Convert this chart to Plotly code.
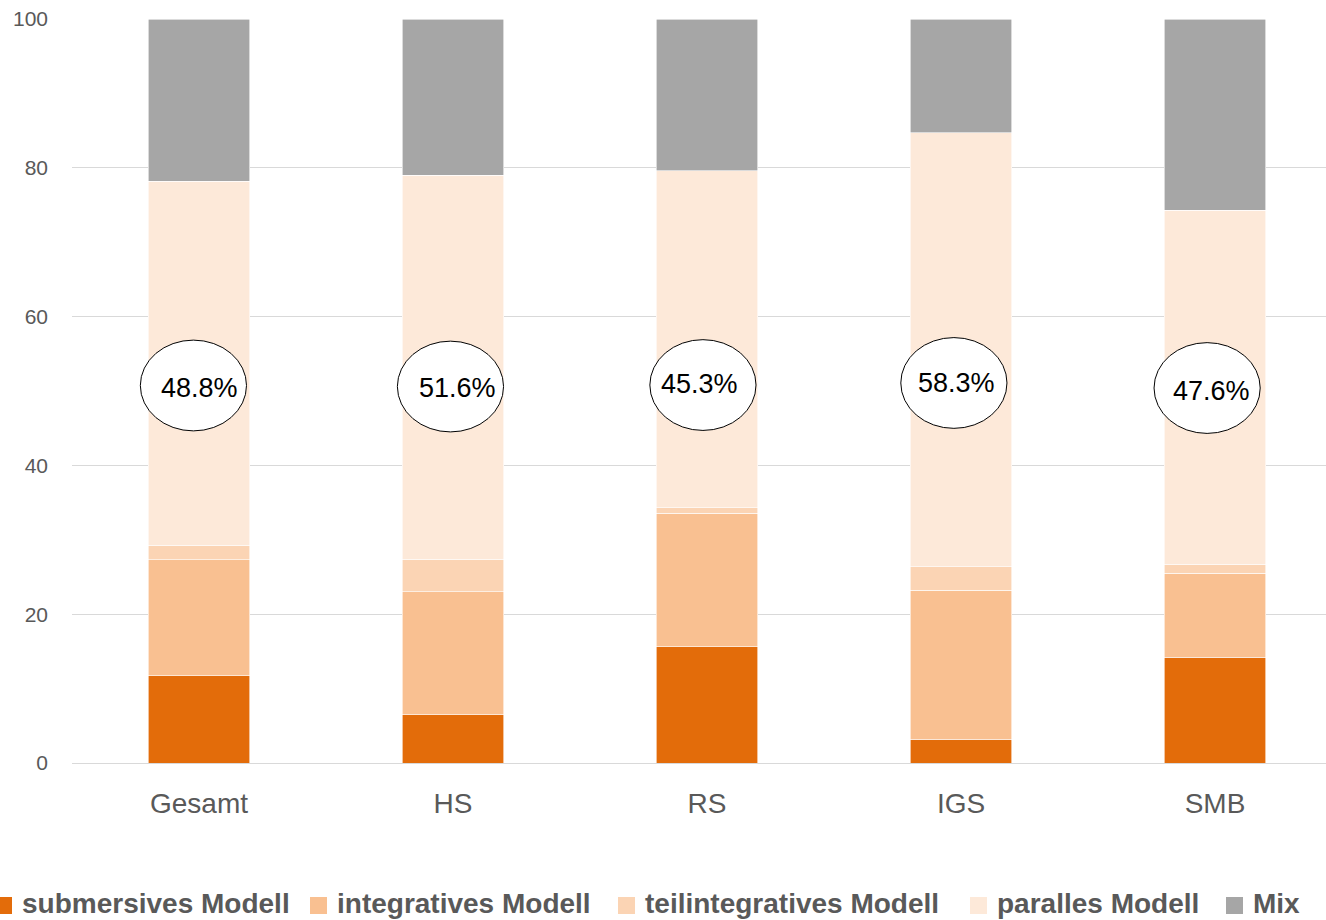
import plotly.graph_objects as go

categories = ["Gesamt", "HS", "RS", "IGS", "SMB"]
submersiv = [11.7, 6.5, 15.6, 3.2, 14.2]
integrativ = [15.6, 16.5, 18.0, 20.0, 11.3]
teilintegrativ = [2.0, 4.4, 0.7, 3.2, 1.2]
parallel = [48.9, 51.6, 45.3, 58.3, 47.6]
mix = [21.8, 21.0, 20.4, 15.3, 25.7]
circle_labels = ["48.8%", "51.6%", "45.3%", "58.3%", "47.6%"]
series_names = ["submersives Modell", "integratives Modell", "teilintegratives Modell", "paralles Modell", "Mix"]

series = [submersiv, integrativ, teilintegrativ, parallel, mix]
colors = ["#E36C0A", "#F9C091", "#FBD4B4", "#FDE9D9", "#A6A6A6"]

FONT = "Liberation Sans, Arial, sans-serif"
W, H = 1326, 920
ML, MT, MB = 72, 19, 157
PW, PH = W - ML, H - MT - MB


def px_x(px):
    return (px - ML) / PW


def px_y(py):
    return (H - MB - py) / PH


fig = go.Figure()
for name, vals, col in zip(series_names, series, colors):
    fig.add_trace(go.Bar(
        x=categories, y=vals, name=name,
        marker=dict(color=col, line=dict(color="white", width=0.6)),
        showlegend=False,
    ))

# ellipse placement (layout tweaks, in category units / axis units)
ell_dx = [-0.022, -0.010, -0.016, -0.028, -0.031]
ell_cy = [50.74, 50.6, 50.8, 51.08, 50.4]
txt_dx = [0.002, 0.018, -0.030, -0.018, -0.014]
txt_cy = [50.4, 50.4, 50.9, 51.1, 50.0]
ell_halfw = 0.209
ell_halfh = 6.1
for i, lab in enumerate(circle_labels):
    cx = i + ell_dx[i]
    fig.add_shape(type="circle", xref="x", yref="y",
                  x0=cx - ell_halfw, x1=cx + ell_halfw,
                  y0=ell_cy[i] - ell_halfh, y1=ell_cy[i] + ell_halfh,
                  fillcolor="white", line=dict(color="black", width=1), layer="above")
    fig.add_annotation(x=i + txt_dx[i], y=txt_cy[i], xref="x", yref="y",
                       text=lab, showarrow=False,
                       font=dict(family=FONT, size=27, color="black"))

# manual legend (pixel layout of the reference)
sq_left = [-5, 310, 618, 970, 1226]
sq_size = 17
leg_cy = 905.5
for name, col, sx in zip(series_names, colors, sq_left):
    fig.add_shape(type="rect", xref="paper", yref="paper",
                  x0=px_x(sx), x1=px_x(sx + sq_size),
                  y0=px_y(leg_cy + sq_size / 2), y1=px_y(leg_cy - sq_size / 2),
                  fillcolor=col, line=dict(width=0))
    fig.add_annotation(x=px_x(sx + sq_size + 8), y=px_y(leg_cy - 2), xref="paper", yref="paper",
                       xanchor="left", yanchor="middle", showarrow=False,
                       text="<b>" + name + "</b>",
                       font=dict(family=FONT, size=28, color="#595959"))

fig.update_layout(
    barmode="stack",
    bargap=0.6,
    width=W, height=H,
    margin=dict(l=ML, r=0, t=MT, b=MB),
    plot_bgcolor="white", paper_bgcolor="white",
    font=dict(family=FONT, color="#595959"),
    xaxis=dict(tickfont=dict(size=28, color="#595959"), showline=False,
               ticks="", ticklabelstandoff=21, range=[-0.5, 4.437]),
    yaxis=dict(range=[0, 100], tickvals=[0, 20, 40, 60, 80, 100],
               showgrid=True, gridcolor="#D9D9D9", gridwidth=1.3,
               zeroline=True, zerolinecolor="#D9D9D9", zerolinewidth=1.3,
               tickfont=dict(size=21, color="#595959"), ticklabelstandoff=23,
               showline=False),
    showlegend=False,
)

fig.write_html("out.html")
